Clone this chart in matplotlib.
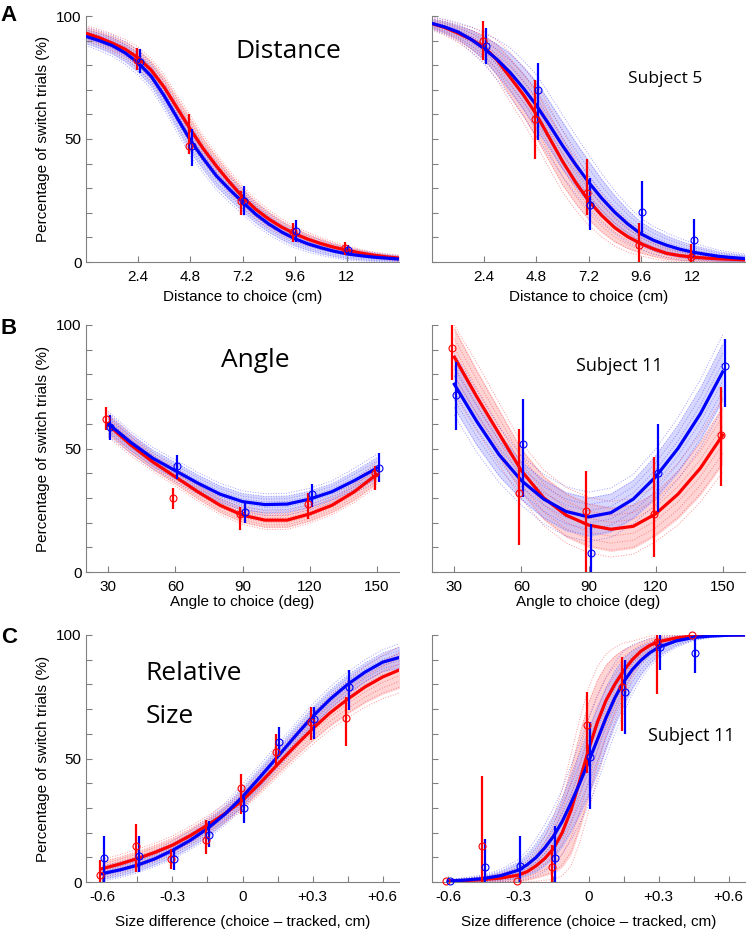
import numpy as np
import matplotlib.pyplot as plt

plt.rcParams['font.family'] = ['Liberation Sans', 'DejaVu Sans']

# ---------------- data ----------------
# row A : distance
dist_ticks = [2.4, 4.8, 7.2, 9.6, 12]
dist_curve_x = [0, 0.6, 1.2, 1.8, 2.4, 3.0, 3.6, 4.2, 4.8, 5.4, 6.0, 6.6, 7.2,
                7.8, 8.4, 9.0, 9.6, 10.2, 10.8, 11.4, 12.0, 12.6, 13.2, 13.8, 14.4]

distA_red = [93, 91.2, 89, 86.5, 83, 78, 71, 62.5, 54, 46, 39, 32.5, 26.5,
             21.5, 17.5, 14.2, 11.5, 9.3, 7.5, 6.0, 4.8, 3.7, 2.8, 2.1, 1.6]
distA_blue = [91.7, 90, 88, 85, 81, 75.5, 67.5, 58.5, 49.5, 42, 35, 29.5, 24.4,
              19.5, 15.5, 12.2, 9.5, 7.4, 5.8, 4.4, 3.3, 2.6, 2.0, 1.6, 1.2]
distA_red_hw = [2.5, 2.7, 3, 3.2, 3.5, 3.7, 4, 4.2, 4.5, 4.2, 4, 3.7, 3.5,
                3.2, 3, 2.7, 2.5, 2.2, 2, 1.7, 1.5, 1.2, 1, 1, 1]
distA_blue_hw = [3, 3.2, 3.5, 3.7, 4, 4.2, 4.5, 4.7, 5, 4.7, 4.5, 4.2, 4,
                 3.7, 3.5, 3.2, 3, 2.7, 2.5, 2.2, 2, 1.7, 1.5, 1.2, 1]
distA_red_pts = [82, 47, 25, 12, 5.6]
distA_red_lo = [78, 44, 19, 8, 3]
distA_red_hi = [87, 60, 29, 16, 8]
distA_blue_pts = [81.5, 47, 25, 12.6, 5]
distA_blue_lo = [77, 39, 19, 8, 3]
distA_blue_hi = [86.6, 54, 31, 17, 7]

distS_red = [96.9, 95.3, 93, 90.5, 87.4, 82, 75, 68, 60, 50.5, 41, 32.5, 25,
             19, 14, 10.3, 7.5, 5.3, 3.5, 2.6, 2, 1.6, 1.3, 1.1, 0.9]
distS_blue = [97, 95.5, 93.5, 90.5, 86.7, 82.3, 77, 70.7, 63.7, 55.7, 47.4, 39.7, 32.5,
              26, 20.3, 15.5, 11.5, 8.8, 6.8, 5.2, 4, 3.1, 2.3, 1.8, 1.4]
distS_red_hw = [2, 2.5, 3, 4, 5, 6.5, 8, 9, 10, 10, 10, 9, 8,
                7, 6, 5, 4, 3.2, 2.5, 2, 1.5, 1.2, 1, 0.8, 0.7]
distS_blue_hw = [2, 2.5, 3, 4, 5, 6.5, 8, 9, 10, 10, 10, 9.5, 9,
                 8, 7, 6, 5, 4.5, 4, 3.5, 3, 2.5, 2, 1.7, 1.5]
distS_red_pts = [90, 58, 28, 6.8, 2]
distS_red_lo = [82, 42, 19, 0, 0]
distS_red_hi = [98, 74, 42, 16, 7.5]
distS_blue_pts = [88, 70, 23, 20.3, 8.8]
distS_blue_lo = [80.6, 49.5, 13, 11.5, 2]
distS_blue_hi = [95, 81, 34, 33, 17.6]

# row B : angle
ang_ticks = [30, 60, 90, 120, 150]
ang_curve_x = [30, 40, 50, 60, 70, 80, 90, 100, 110, 120, 130, 140, 150]

angA_red = [59.5, 51.5, 44.5, 38.5, 32.5, 27, 23, 21, 21, 23.5, 27, 32.5, 39.5]
angA_blue = [60, 52.5, 46, 41, 36, 31.5, 28.5, 27.3, 27.5, 29.5, 32.5, 37, 42]
angA_red_hw = [4, 3.5, 3, 3, 3, 3, 3, 3, 3, 3, 3, 3.5, 4]
angA_blue_hw = [4, 3.5, 3.5, 3.5, 3.5, 3.5, 3.5, 3.5, 3.5, 3.5, 3.5, 4, 4.5]
angA_red_pts = [62, 30, 23.6, 27.5, 40]
angA_red_lo = [57.4, 25.7, 17, 21.6, 33]
angA_red_hi = [66.8, 34, 26.4, 32, 43]
angA_blue_pts = [58.8, 43, 24.3, 31.4, 42]
angA_blue_lo = [53.4, 37.8, 19.9, 26.4, 36.4]
angA_blue_hi = [63.6, 47.3, 28.4, 35.8, 48]

angS_red = [87, 71, 56, 41, 30, 23, 19, 17.3, 18.5, 23.5, 31.5, 42, 55.4]
angS_blue = [76, 61, 47.5, 37, 29.5, 24.5, 22.3, 24, 29.5, 38.5, 50, 64, 81]
angS_red_hw = [12, 11, 10, 9, 9, 9, 9, 9, 9, 9, 10, 11, 12]
angS_blue_hw = [10, 10, 9, 8, 8, 8, 8, 8, 8, 9, 10, 11, 12]
angS_red_pts = [90.5, 31.8, 24.7, 23.6, 55.4]
angS_red_lo = [77.7, 10.8, 0, 6, 35]
angS_red_hi = [100, 57.7, 41, 46.6, 74.7]
angS_blue_pts = [71.6, 52, 7.8, 40, 83.5]
angS_blue_lo = [57.4, 30.4, 0, 24.3, 67]
angS_blue_hi = [85, 70, 19.6, 59.9, 94.3]

# row C : relative size
size_ticks = [-0.6, -0.45, -0.3, -0.15, 0, 0.15, 0.3, 0.45, 0.6]
size_labels = ['-0.6', '', '-0.3', '', '0', '', '+0.3', '', '+0.6']
size_pts_x = [-0.6, -0.45, -0.3, -0.15, 0, 0.15, 0.3, 0.45]
sizeA_curve_x = [-0.6, -0.525, -0.45, -0.375, -0.3, -0.225, -0.15, -0.075, 0,
                 0.075, 0.15, 0.225, 0.3, 0.375, 0.45, 0.525, 0.6, 0.675]

sizeA_red = [5.4, 7.3, 9.5, 12, 14.9, 18.7, 23, 27.7, 33, 40, 47.6, 55, 62, 68.5, 74, 79, 83, 86]
sizeA_blue = [3.4, 4.9, 6.8, 9.4, 12.8, 16.8, 21.6, 27.5, 34.5, 42.5, 50.7, 59, 67, 74, 80, 85, 89, 91]
sizeA_red_hw = [3, 3, 3, 3, 3, 3, 3, 3, 3, 3.5, 4, 4.5, 5, 5.5, 6, 6.5, 7, 7.5]
sizeA_blue_hw = [2.5, 2.5, 2.5, 2.5, 3, 3, 3.5, 3.5, 4, 4, 4, 4, 4, 4, 4, 4, 4, 4.5]
sizeA_red_pts = [2.9, 14.6, 9.5, 17, 38.2, 52.7, 64.9, 66.5]
sizeA_red_lo = [0, 4, 5.4, 11.5, 27.7, 46.6, 57.4, 55]
sizeA_red_hi = [8.8, 23.3, 13.5, 25, 43.8, 59.9, 71, 74.7]
sizeA_blue_pts = [9.6, 10.5, 9.5, 19, 30, 56.8, 65.8, 78.8]
sizeA_blue_lo = [0, 4, 4.7, 14, 24, 51, 58, 69.6]
sizeA_blue_hi = [18.6, 18.6, 13.5, 24.7, 34.5, 62.8, 71, 85.8]

sizeS_curve_x = [-0.6, -0.525, -0.45, -0.375, -0.3, -0.2625, -0.225, -0.1875, -0.15,
                 -0.1125, -0.075, -0.0375, 0, 0.0375, 0.075, 0.1125, 0.15, 0.1875,
                 0.225, 0.2625, 0.3, 0.375, 0.45, 0.525, 0.6, 0.675]
sizeS_red = [0.4, 0.6, 1.0, 1.6, 2.8, 4.2, 6.5, 9.5, 13.5, 20, 29, 41, 53.5,
             64.5, 73.5, 80, 85.5, 90, 93.5, 95.8, 97.3, 98.8, 99.6, 99.9, 100, 100]
sizeS_blue = [0.4, 0.8, 1.4, 2.6, 4.8, 7, 9.9, 13.8, 18.5, 24.5, 32, 40, 48.6,
              57.5, 66.5, 74.5, 81, 86, 89.8, 92.8, 95, 97.6, 99, 99.6, 99.9, 100]
sizeS_red_hw = [0.5, 0.6, 1, 1.5, 2.5, 3.5, 5, 7, 10, 14, 18, 20, 20,
                18, 15, 12, 9, 6, 4, 3, 2, 1, 0.5, 0.3, 0.2, 0.2]
sizeS_blue_hw = [0.5, 0.8, 1.2, 2, 3.5, 4.5, 6, 7.5, 9, 10.5, 12, 13, 14,
                 14, 13, 11.5, 10, 8, 6, 4.5, 3.5, 2, 1, 0.5, 0.3, 0.2]
sizeS_red_pts = [0.4, 14.5, 0.4, 6, 63.5, 78.8, 97.3, 100]
sizeS_red_lo = [0.4, 0, 0.4, 0, 44, 61.2, 76, 100]
sizeS_red_hi = [0.4, 43, 0.4, 14.9, 76.8, 91.2, 100, 100]
sizeS_blue_pts = [0.4, 6, 6.4, 9.7, 50.7, 77, 95, 92.6]
sizeS_blue_lo = [0.4, 0, 0, 0, 29.7, 60, 85.8, 84.8]
sizeS_blue_hi = [0.4, 17.6, 18.6, 22.7, 64.6, 89.9, 100, 100]

RED = '#ff0000'
BLUE = '#0000ff'


def band(ax, x, y, hw, line_c, fill_c):
    x = np.array(x)
    y = np.array(y)
    hw = np.array(hw)
    lo = np.clip(y - hw, 0, 100)
    hi = np.clip(y + hw, 0, 100)
    ax.fill_between(x, lo, hi, color=fill_c, alpha=0.45, lw=0)
    for k in np.linspace(-1.25, 1.25, 9):
        ax.plot(x, np.clip(y + k * hw, 0, 100), ls=':', lw=0.7, color=line_c, alpha=0.55)


def points(ax, x, m, lo, hi, dx, c):
    x = np.array(x) + dx
    m = np.array(m)
    err = [m - np.array(lo), np.array(hi) - m]
    ax.errorbar(x, m, yerr=err, fmt='o', color=c, mfc='none', ms=5, mew=0.8,
                elinewidth=1.6, capsize=0, clip_on=False, zorder=5)


def panel(ax, cx, red, blue, red_hw, blue_hw, px, rp, rlo, rhi, bp, blo, bhi, dx):
    band(ax, cx, red, red_hw, '#ff4040', '#ffa0a0')
    band(ax, cx, blue, blue_hw, '#5050ff', '#a8a8ff')
    ax.plot(cx, red, color=RED, lw=2.3, zorder=4)
    ax.plot(cx, blue, color=BLUE, lw=2.3, zorder=4)
    points(ax, px, rp, rlo, rhi, -dx, RED)
    points(ax, px, bp, blo, bhi, dx, BLUE)
    ax.set_ylim(0, 100)
    ax.set_yticks(np.arange(0, 101, 10))
    for s in ['top', 'right']:
        ax.spines[s].set_visible(False)
    for s in ['left', 'bottom']:
        ax.spines[s].set_color('#808080')
    ax.tick_params(direction='in', length=4, color='#808080', labelsize=11, pad=6)
    ax.tick_params(axis='y', pad=3)


fig = plt.figure(figsize=(7.5, 9.32), dpi=100)
lefts = [86 / 750, 432 / 750]
w = 313 / 750
rows = [(262, 16), (572, 325), (882, 635)]
axs = []
for bot, top in rows:
    r = []
    for l in lefts:
        r.append(fig.add_axes([l, 1 - bot / 932, w, (bot - top) / 932]))
    axs.append(r)

# row A
panel(axs[0][0], dist_curve_x, distA_red, distA_blue, distA_red_hw, distA_blue_hw,
      dist_ticks, distA_red_pts, distA_red_lo, distA_red_hi,
      distA_blue_pts, distA_blue_lo, distA_blue_hi, 0.07)
panel(axs[0][1], dist_curve_x, distS_red, distS_blue, distS_red_hw, distS_blue_hw,
      dist_ticks, distS_red_pts, distS_red_lo, distS_red_hi,
      distS_blue_pts, distS_blue_lo, distS_blue_hi, 0.07)
# row B
panel(axs[1][0], ang_curve_x, angA_red, angA_blue, angA_red_hw, angA_blue_hw,
      ang_ticks, angA_red_pts, angA_red_lo, angA_red_hi,
      angA_blue_pts, angA_blue_lo, angA_blue_hi, 0.9)
panel(axs[1][1], ang_curve_x, angS_red, angS_blue, angS_red_hw, angS_blue_hw,
      ang_ticks, angS_red_pts, angS_red_lo, angS_red_hi,
      angS_blue_pts, angS_blue_lo, angS_blue_hi, 0.9)
# row C
panel(axs[2][0], sizeA_curve_x, sizeA_red, sizeA_blue, sizeA_red_hw, sizeA_blue_hw,
      size_pts_x, sizeA_red_pts, sizeA_red_lo, sizeA_red_hi,
      sizeA_blue_pts, sizeA_blue_lo, sizeA_blue_hi, 0.008)
panel(axs[2][1], sizeS_curve_x, sizeS_red, sizeS_blue, sizeS_red_hw, sizeS_blue_hw,
      size_pts_x, sizeS_red_pts, sizeS_red_lo, sizeS_red_hi,
      sizeS_blue_pts, sizeS_blue_lo, sizeS_blue_hi, 0.008)

for ax in axs[0]:
    ax.set_xlim(0, 14.4)
    ax.set_xticks(dist_ticks)
    ax.set_xticklabels(['2.4', '4.8', '7.2', '9.6', '12'])
    ax.set_xlabel('Distance to choice (cm)', fontsize=11)
    ax.xaxis.set_label_coords(0.5, -0.112)
for ax in axs[1]:
    ax.set_xlim(20, 160)
    ax.set_xticks(ang_ticks)
    ax.set_xlabel('Angle to choice (deg)', fontsize=11)
    ax.xaxis.set_label_coords(0.5, -0.095)
for ax in axs[2]:
    ax.set_xlim(-0.67, 0.67)
    ax.set_xticks(size_ticks)
    ax.set_xticklabels(size_labels)
    ax.set_xlabel('Size difference (choice \u2013 tracked, cm)', fontsize=11)
    ax.xaxis.set_label_coords(0.5, -0.132)

ylabs = ['0'] + [''] * 4 + ['50'] + [''] * 4 + ['100']
for r in axs:
    r[0].set_yticklabels(ylabs)
    r[0].set_ylabel('Percentage of switch trials (%)', fontsize=11)
    r[0].yaxis.set_label_coords(-0.115, 0.5)
    r[1].set_yticklabels([])

tf = ['Open Sans', 'DejaVu Sans']
axs[0][0].text(0.645, 0.854, 'Distance', transform=axs[0][0].transAxes, fontsize=19,
               family=tf, ha='center', va='center')
axs[0][1].text(0.744, 0.744, 'Subject 5', transform=axs[0][1].transAxes, fontsize=12.5,
               family=tf, ha='center', va='center')
axs[1][0].text(0.54, 0.858, 'Angle', transform=axs[1][0].transAxes, fontsize=19,
               family=tf, ha='center', va='center')
axs[1][1].text(0.60, 0.834, 'Subject 11', transform=axs[1][1].transAxes, fontsize=13,
               family=tf, ha='center', va='center')
axs[2][0].text(0.19, 0.846, 'Relative', transform=axs[2][0].transAxes, fontsize=19,
               family=tf, ha='left', va='center')
axs[2][0].text(0.19, 0.672, 'Size', transform=axs[2][0].transAxes, fontsize=19,
               family=tf, ha='left', va='center')
axs[2][1].text(0.83, 0.59, 'Subject 11', transform=axs[2][1].transAxes, fontsize=13,
               family=tf, ha='center', va='center')

for letter, ytop in [('A', 5), ('B', 318), ('C', 627)]:
    fig.text(0.001, 1 - ytop / 932, letter, fontsize=16, fontweight='bold', va='top', ha='left')

fig.savefig('out.png', dpi=100)
